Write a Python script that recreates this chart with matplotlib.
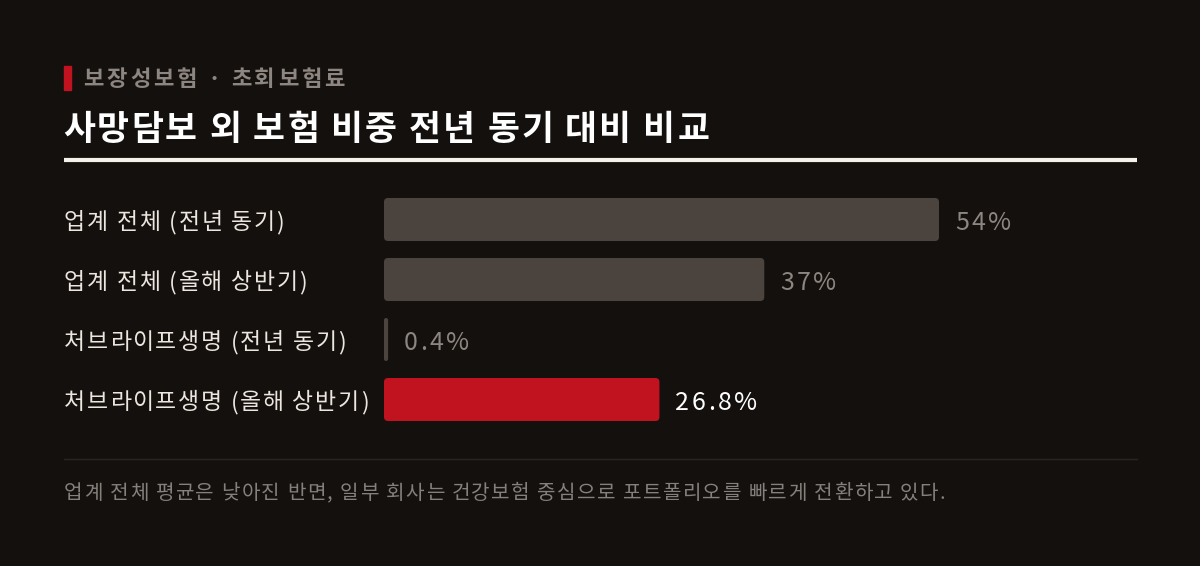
import matplotlib
matplotlib.use("Agg")
import matplotlib.pyplot as plt
from matplotlib.patches import FancyBboxPatch, Rectangle
from matplotlib.lines import Line2D
from matplotlib.font_manager import findfont, FontProperties
from matplotlib.ft2font import FT2Font

plt.rcParams['font.family'] = ['Noto Sans CJK KR', 'DejaVu Sans']

# ---- data ----
categories = ["업계 전체 (전년 동기)", "업계 전체 (올해 상반기)",
              "처브라이프생명 (전년 동기)", "처브라이프생명 (올해 상반기)"]
values = [54, 37, 0.4, 26.8]
value_labels = ["54%", "37%", "0.4%", "26.8%"]
kicker = "보장성보험 · 초회보험료"
title = "사망담보 외 보험 비중 전년 동기 대비 비교"
footnote = "업계 전체 평균은 낮아진 반면, 일부 회사는 건강보험 중심으로 포트폴리오를 빠르게 전환하고 있다."

BG = "#14100e"
GREY_BAR = "#4a433e"
RED = "#c0121f"
LABEL_C = "#ece6df"
MUTED = "#8c8580"

W, H = 1200, 566
DPI = 100
fig = plt.figure(figsize=(W / DPI, H / DPI), dpi=DPI, facecolor=BG)


def fx(px):
    return px / W


def fy(py):
    return 1 - py / H


_font_cache = {}


def _ft(weight):
    if weight not in _font_cache:
        path = findfont(FontProperties(family='Noto Sans CJK KR', weight=weight))
        _font_cache[weight] = FT2Font(path)
    return _font_cache[weight]


def tracked(x_px, y_center_px, s, size, track_em, color, weight='normal'):
    """Draw text with letter spacing; x in px from left, y = visual centre in px from top."""
    font = _ft(weight)
    font.set_size(size, DPI)
    em = size * DPI / 72.0
    baseline = y_center_px + 0.37 * em
    x = x_px
    for ch in s:
        if ch != ' ':
            fig.text(fx(x), fy(baseline), ch, color=color, fontsize=size,
                     fontweight=weight, va='baseline', ha='left')
        g = font.load_char(ord(ch))
        x += g.linearHoriAdvance / 65536.0 + track_em * em
    return x


# header
fig.patches.append(Rectangle((fx(63.5), fy(90)), fx(7.5), (90 - 65.5) / H,
                             transform=fig.transFigure, color=RED, zorder=2))
tracked(83.5, 77.5, kicker, 16, 0.125, MUTED, 'bold')
tracked(63, 127.5, title, 25, 0.06, "#ffffff", 'bold')
fig.add_artist(Line2D([fx(64), fx(1137)], [fy(159.5), fy(159.5)],
                      transform=fig.transFigure, color="#f5f0e8", linewidth=3,
                      solid_capstyle='butt'))

# bars axes: x from 384px, 555px = 54%
px_per = 555 / 54
ax_left, ax_right = 384, 1137
ax_top, ax_bot = 189.5, 429.5
ax = fig.add_axes([fx(ax_left), fy(ax_bot), fx(ax_right - ax_left), (ax_bot - ax_top) / H])
ax.set_facecolor("none")
ax.set_xlim(0, (ax_right - ax_left) / px_per)
ax.set_ylim(len(categories) - 0.5, -0.5)
ax.axis('off')

bar_h = 43 / 60
r_px = 4
for i, (v, lab) in enumerate(zip(values, value_labels)):
    last = i == len(values) - 1
    color = RED if last else GREY_BAR
    rs = min(r_px / px_per, v / 2)
    aspect = (r_px / 60) / (r_px / px_per)
    p = FancyBboxPatch((0, i - bar_h / 2), v, bar_h,
                       boxstyle=f"round,pad=0,rounding_size={rs}",
                       mutation_aspect=aspect, facecolor=color, edgecolor='none')
    ax.add_patch(p)

fig.canvas.draw()
for i, (v, lab) in enumerate(zip(values, value_labels)):
    last = i == len(values) - 1
    xd, yd = ax.transData.transform((v, i))
    x_px = xd + 16
    y_px = H - yd
    tcolor = "#ffffff" if last else MUTED
    tracked(x_px, y_px + 1.5, lab, 18, 0.1, tcolor, 'medium')
    tracked(64, y_px + 1.5, categories[i], 16.5, 0.075, LABEL_C)

# separator + footnote
fig.add_artist(Line2D([fx(64), fx(1137)], [fy(458.5), fy(458.5)],
                      transform=fig.transFigure, color="#2a2522", linewidth=1))
tracked(64, 491.5, footnote, 14.5, 0.07, "#85807b")

fig.savefig("out.png", dpi=DPI, facecolor=BG)
